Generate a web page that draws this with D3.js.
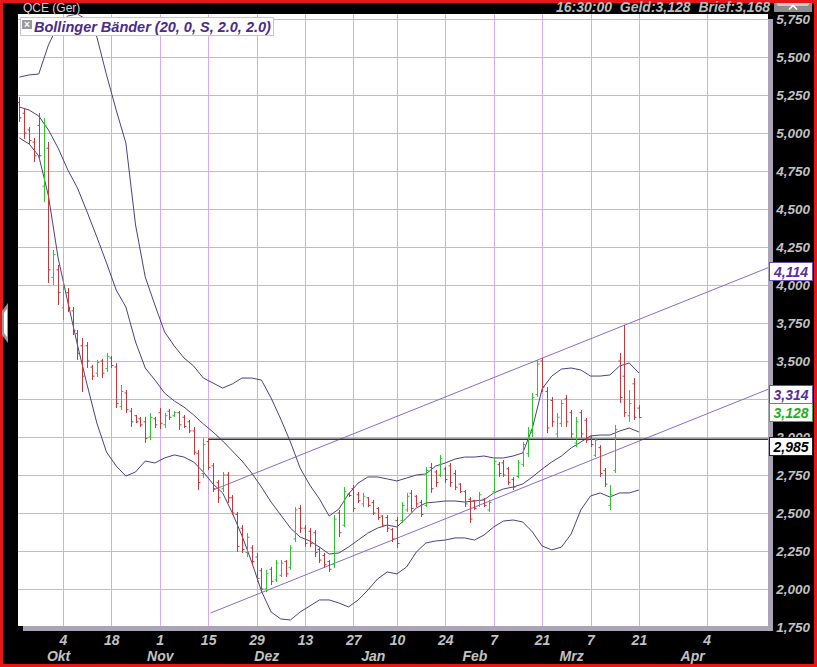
<!DOCTYPE html>
<html><head><meta charset="utf-8">
<script src="https://cdn.jsdelivr.net/npm/d3@7"></script>
<style>
html,body{margin:0;padding:0;background:#000;}
svg{display:block;}
text{font-family:"Liberation Sans",Arial,sans-serif;}
</style></head><body>
<svg id="c" width="817" height="667"></svg>
<script>
// ---------- DATA ----------
const title = "QCE (Ger)";
const legendText = "Bollinger Bänder (20, 0, S, 2.0, 2.0)";
const quoteText = "16:30:00  Geld:3,128  Brief:3,168";

const high = [
5.237,5.164,5.039,4.967,5.132,5.099,4.941,4.230,4.132,4.033,
3.980,3.855,3.704,3.651,3.625,3.474,3.507,3.513,3.553,3.533,
3.487,3.342,3.309,3.191,3.145,3.132,3.132,3.158,3.132,3.191,
3.158,3.184,3.171,3.171,3.145,3.112,3.066,2.914,2.993,2.993,
2.829,2.717,2.770,2.770,2.618,2.507,2.421,2.368,2.289,2.237,
2.138,2.125,2.145,2.191,2.191,2.191,2.289,2.539,2.553,2.421,
2.401,2.388,2.276,2.237,2.191,2.487,2.520,2.671,2.632,2.684,
2.638,2.632,2.605,2.586,2.539,2.487,2.487,2.401,2.474,2.572,
2.632,2.651,2.618,2.586,2.803,2.829,2.783,2.882,2.803,2.829,
2.783,2.697,2.651,2.605,2.586,2.638,2.599,2.586,2.862,2.836,
2.849,2.803,2.737,2.849,2.967,3.066,3.289,3.507,3.520,3.329,
3.263,3.158,3.243,3.276,3.178,3.132,3.178,3.125,3.013,2.993,
2.947,2.796,2.684,3.079,3.553,3.737,3.309,3.388,3.210];
const low = [
5.072,4.961,4.921,4.809,4.822,4.546,4.013,4.000,3.868,3.770,
3.822,3.671,3.507,3.296,3.454,3.375,3.395,3.388,3.428,3.454,
3.191,3.178,3.158,3.066,3.092,3.066,2.961,2.980,3.059,3.053,
3.059,3.112,3.132,3.046,3.059,3.026,2.882,2.651,2.730,2.783,
2.638,2.566,2.638,2.566,2.487,2.243,2.237,2.210,2.158,2.046,
1.974,1.980,2.026,2.046,2.079,2.079,2.125,2.309,2.368,2.276,
2.276,2.210,2.171,2.138,2.112,2.138,2.342,2.408,2.605,2.507,
2.566,2.539,2.539,2.487,2.454,2.408,2.375,2.309,2.270,2.434,
2.507,2.507,2.539,2.474,2.539,2.632,2.671,2.737,2.697,2.671,
2.651,2.632,2.539,2.434,2.520,2.539,2.539,2.507,2.632,2.737,
2.737,2.684,2.651,2.730,2.803,2.868,3.000,3.263,3.296,3.026,
3.066,2.993,3.066,3.066,2.993,2.934,2.993,2.961,2.934,2.868,
2.737,2.671,2.520,2.763,3.224,3.132,3.099,3.112,3.125];
const open = [
5.20,5.13,5.02,4.94,5.05,4.65,4.90,4.05,4.10,3.85,
3.95,3.83,3.68,3.60,3.60,3.46,3.42,3.50,3.45,3.52,
3.46,3.20,3.29,3.17,3.14,3.12,3.10,3.00,3.12,3.16,
3.08,3.17,3.14,3.16,3.13,3.10,3.04,2.89,2.76,2.97,
2.81,2.70,2.66,2.75,2.60,2.49,2.40,2.24,2.27,2.21,
2.12,2.00,2.13,2.06,2.09,2.18,2.14,2.33,2.53,2.40,
2.38,2.37,2.26,2.22,2.18,2.16,2.50,2.42,2.625,2.66,
2.62,2.56,2.60,2.57,2.53,2.48,2.47,2.39,2.45,2.45,
2.52,2.63,2.61,2.57,2.55,2.80,2.77,2.75,2.79,2.81,
2.76,2.69,2.64,2.59,2.58,2.55,2.59,2.52,2.64,2.82,
2.83,2.79,2.72,2.74,2.82,2.89,3.03,3.28,3.50,3.30,
3.24,3.02,3.09,3.25,3.16,2.96,3.16,3.11,3.00,2.88,
2.93,2.78,2.55,2.78,3.50,3.40,3.14,3.35,3.19];
const close = [
5.10,5.00,4.95,4.85,4.85,5.05,4.10,4.20,3.95,3.98,
3.85,3.70,3.55,3.40,3.50,3.40,3.49,3.42,3.53,3.47,
3.22,3.30,3.18,3.10,3.10,3.08,2.99,3.13,3.08,3.09,
3.14,3.13,3.16,3.08,3.07,3.04,2.90,2.70,2.95,2.80,
2.66,2.60,2.75,2.60,2.50,2.28,2.26,2.34,2.18,2.07,
2.00,2.10,2.05,2.17,2.17,2.10,2.27,2.52,2.40,2.30,
2.30,2.24,2.19,2.16,2.13,2.46,2.37,2.64,2.615,2.53,
2.58,2.61,2.55,2.50,2.47,2.42,2.40,2.33,2.30,2.55,
2.61,2.53,2.56,2.49,2.78,2.66,2.70,2.86,2.72,2.70,
2.67,2.64,2.56,2.46,2.53,2.62,2.55,2.57,2.84,2.76,
2.75,2.70,2.67,2.83,2.95,3.04,3.26,3.48,3.33,3.06,
3.10,3.13,3.22,3.10,3.02,3.10,3.02,2.98,2.95,2.98,
2.76,2.69,2.62,3.05,3.26,3.16,3.22,3.13,3.128];

// Bollinger bands, read at every second bar (bar index 0,2,...,128)
const bandUpper = [
5.368,5.382,5.388,5.579,5.711,5.770,5.783,5.743,5.632,5.382,
5.151,4.934,4.395,4.053,3.868,3.691,3.599,3.520,3.467,3.388,
3.355,3.322,3.349,3.388,3.388,3.375,3.257,3.118,2.967,2.796,
2.684,2.592,2.480,2.526,2.625,2.697,2.737,2.737,2.724,2.711,
2.730,2.750,2.757,2.809,2.829,2.855,2.868,2.868,2.875,2.862,
2.862,2.875,2.895,3.059,3.316,3.401,3.447,3.454,3.441,3.401,
3.401,3.408,3.467,3.487,3.421];
const bandMiddle = [
5.171,5.151,5.112,5.020,4.901,4.757,4.638,4.480,4.316,4.145,
3.967,3.855,3.625,3.454,3.375,3.289,3.237,3.197,3.145,3.086,
3.033,2.974,2.908,2.842,2.763,2.671,2.572,2.487,2.401,2.342,
2.316,2.276,2.230,2.237,2.276,2.322,2.368,2.401,2.421,2.408,
2.467,2.533,2.566,2.572,2.579,2.579,2.572,2.579,2.586,2.632,
2.658,2.671,2.691,2.737,2.789,2.836,2.875,2.928,2.967,3.007,
3.013,3.013,3.039,3.059,3.033];
const bandLower = [
4.967,4.928,4.849,4.586,4.178,3.888,3.605,3.342,3.092,2.901,
2.809,2.743,2.770,2.842,2.829,2.862,2.882,2.868,2.836,2.770,
2.691,2.632,2.500,2.349,2.178,1.987,1.849,1.803,1.796,1.849,
1.888,1.928,1.928,1.908,1.882,1.928,1.993,2.066,2.112,2.099,
2.145,2.243,2.303,2.316,2.322,2.336,2.336,2.322,2.355,2.408,
2.447,2.454,2.441,2.375,2.283,2.257,2.276,2.362,2.520,2.612,
2.632,2.605,2.632,2.632,2.651];
const bandIdx = d3.range(0, 129, 2);

// trend channel lines [barIndex, price]
const upperTrend = [[40, 2.651], [154.7, 4.114]];
const lowerTrend = [[39.5, 1.842], [154.7, 3.314]];
const hLine = {from: 39, value: 2.985};

// price labels on the right
const priceLabels = [
  {text: "4,114", value: 4.114, kind: "purple"},
  {text: "3,314", value: 3.314, kind: "purple"},
  {text: "3,128", value: 3.128, kind: "green"},
  {text: "2,985", value: 2.985, kind: "black"}];

// axes (3,250 is fully covered by the price boxes in the reference, so it is not listed)
const yTicks = [1.75,2.0,2.25,2.5,2.75,3.0,3.5,3.75,4.0,4.25,4.5,4.75,5.0,5.25,5.5,5.75];
const gridValues = [2.0,2.25,2.5,2.75,3.0,3.25,3.5,3.75,4.0,4.25,4.5,4.75,5.0,5.25,5.5,5.75];
const dayIdx = [9,19,29,39,49,59,69,78,88,98,108,118,128,142];
const dayLabels = ["4","18","1","15","29","13","27","10","24","7","21","7","21","4"];
const monthIdx = [8,29,51,73,94,114,139];
const monthLabels = ["Okt","Nov","Dez","Jan","Feb","Mrz","Apr"];

// ---------- DRAW ----------
const W = 817, H = 667;
const PL = 18, PR = 768, PT = 14, PB = 626;
const svg = d3.select("#c");
const x = d3.scaleLinear().domain([0, 128]).range([19.4, 638.9]);
const y = d3.scaleLinear().domain([1.75, 5.75]).range([627, 19]);

svg.append("rect").attr("width", W).attr("height", H).attr("fill", "#000");
svg.append("rect").attr("x", 1.5).attr("y", 1.5).attr("width", W - 3).attr("height", H - 3)
  .attr("fill", "none").attr("stroke", "#e8161b").attr("stroke-width", 3);

// shadow + plot area
svg.append("rect").attr("x", PL + 5).attr("y", PT + 5).attr("width", PR - PL).attr("height", PB - PT).attr("fill", "#aaa4b6");
svg.append("rect").attr("x", PL).attr("y", PT).attr("width", PR - PL).attr("height", PB - PT).attr("fill", "#fff");

svg.append("clipPath").attr("id", "clip").append("rect")
  .attr("x", PL).attr("y", PT).attr("width", PR - PL).attr("height", PB - PT);
const plot = svg.append("g").attr("clip-path", "url(#clip)");

// grid
const gridColor = "#d4aaf0";
plot.selectAll("line.hg").data(gridValues).join("line")
  .attr("x1", PL).attr("x2", PR).attr("y1", d => Math.round(y(d)) + 0.5).attr("y2", d => Math.round(y(d)) + 0.5)
  .attr("stroke", gridColor).attr("stroke-width", 1);
plot.selectAll("line.vg").data(dayIdx).join("line")
  .attr("y1", PT).attr("y2", PB).attr("x1", d => Math.round(x(d)) + 0.5).attr("x2", d => Math.round(x(d)) + 0.5)
  .attr("stroke", gridColor).attr("stroke-width", 1);

// bands
const bandLine = d3.line().x((d, i) => x(bandIdx[i])).y(d => y(d));
[bandUpper, bandMiddle, bandLower].forEach(b => {
  plot.append("path").attr("d", bandLine(b)).attr("fill", "none")
    .attr("stroke", "#4e3f82").attr("stroke-width", 1);
});

// trend lines
const tl = d3.line().x(d => x(d[0])).y(d => y(d[1]));
[upperTrend, lowerTrend].forEach(t => {
  plot.append("path").attr("d", tl(t)).attr("fill", "none").attr("stroke", "#8a6cc9").attr("stroke-width", 1);
});

// horizontal line
plot.append("line").attr("x1", x(hLine.from)).attr("x2", PR)
  .attr("y1", y(hLine.value)).attr("y2", y(hLine.value))
  .attr("stroke", "#33333f").attr("stroke-width", 1.6);

// OHLC bars
const bars = d3.range(high.length).map(i => ({i, o: open[i], h: high[i], l: low[i], c: close[i]}));
const barG = plot.append("g");
const col = d => d.c >= d.o ? "#2fc42f" : "#c9373a";
bars.forEach(d => {
  const cx = Math.round(x(d.i)) + 0.5;
  const g = barG.append("g").attr("stroke", col(d)).attr("stroke-width", 1);
  g.append("line").attr("x1", cx).attr("x2", cx).attr("y1", y(d.h)).attr("y2", y(d.l));
  g.append("line").attr("x1", cx - 2).attr("x2", cx).attr("y1", y(d.o)).attr("y2", y(d.o));
  g.append("line").attr("x1", cx).attr("x2", cx + 2).attr("y1", y(d.c)).attr("y2", y(d.c));
});

// legend box
svg.append("rect").attr("x", 20.5).attr("y", 17.5).attr("width", 253).attr("height", 18)
  .attr("fill", "#fff").attr("stroke", "#c8c4d0").attr("stroke-width", 1);
svg.append("rect").attr("x", 22).attr("y", 20).attr("width", 10).attr("height", 9).attr("fill", "#9a9a9a");
svg.append("text").attr("x", 27).attr("y", 28).attr("text-anchor", "middle").attr("fill", "#fff")
  .attr("font-size", 10).attr("font-weight", "bold").text("×");
svg.append("text").attr("x", 34).attr("y", 32).attr("fill", "#4b2a8c")
  .attr("font-size", 14.5).attr("font-weight", "bold").attr("font-style", "italic").text(legendText);

// title + quote
svg.append("text").attr("x", 23).attr("y", 12).attr("fill", "#d4d4d4").attr("font-size", 12).text(title);
svg.append("text").attr("x", 770).attr("y", 12).attr("text-anchor", "end").attr("fill", "#bdbdbd")
  .attr("font-size", 14).attr("font-weight", "bold").attr("font-style", "italic")
  .attr("xml:space", "preserve").style("white-space", "pre").text(quoteText);

// top-right button
svg.append("path").attr("d", "M774,3 L812,3 L812,12 L774,12 Z").attr("fill", "#8e8e8e");
svg.append("path").attr("d", "M776,3 L810,3 L808,6 L778,6 Z").attr("fill", "#c9c9c9");
svg.append("path").attr("d", "M789,9.5 L793,5.5 L797,9.5").attr("fill", "none").attr("stroke", "#fff").attr("stroke-width", 1.6);

// left tab button
svg.append("path").attr("d", "M8,303 L2,311 L2,335 L8,343 Z").attr("fill", "#9a9a9a");
svg.append("path").attr("d", "M7,309 L4,313 L4,333 L7,337 Z").attr("fill", "#fff");

// y axis (right)
const axisFont = g => g.selectAll("text").attr("fill", "#c2c2c2")
  .attr("font-size", 13.5).attr("font-weight", "bold").attr("font-style", "italic")
  .attr("font-family", "'Liberation Sans', Arial, sans-serif");
const fmt = v => v.toFixed(3).replace(".", ",");
const yAx = svg.append("g").attr("transform", "translate(810,0)")
  .call(d3.axisRight(y).tickValues(yTicks).tickFormat(fmt).tickSize(0));
yAx.select(".domain").remove();
yAx.selectAll("text").attr("x", 0).attr("text-anchor", "end").attr("dy", "0.36em");
axisFont(yAx);

// x axes
const xAx = svg.append("g").call(d3.axisBottom(x).tickValues(dayIdx).tickFormat((d, i) => dayLabels[i]).tickSize(0));
xAx.select(".domain").remove();
xAx.selectAll("text").attr("y", 645).attr("dy", 0);
axisFont(xAx);
xAx.selectAll("text").attr("font-size", 14);
const mAx = svg.append("g").call(d3.axisBottom(x).tickValues(monthIdx).tickFormat((d, i) => monthLabels[i]).tickSize(0));
mAx.select(".domain").remove();
mAx.selectAll("text").attr("y", 661).attr("dy", 0);
axisFont(mAx);
mAx.selectAll("text").attr("font-size", 14);

// price label boxes
const styles = {
  purple: {text: "#5a2e9e", stroke: "#6c4cb4"},
  green: {text: "#1fae1f", stroke: "#2bb82b"},
  black: {text: "#000", stroke: "#222"}};
const boxTopOffset = {"4,114": -6, "3,314": -4.5, "3,128": -14.5, "2,985": -2.5};
priceLabels.forEach(p => {
  const top = y(p.value) + boxTopOffset[p.text];
  const s = styles[p.kind];
  svg.append("rect").attr("x", 769.5).attr("y", Math.round(top) + 0.5).attr("width", 43).attr("height", 18)
    .attr("fill", "#fff").attr("stroke", s.stroke).attr("stroke-width", 1);
  svg.append("text").attr("x", 791).attr("y", Math.round(top) + 15).attr("text-anchor", "middle")
    .attr("fill", s.text).attr("font-size", 14).attr("font-weight", "bold").attr("font-style", "italic")
    .text(p.text);
});
</script>
</body></html>
